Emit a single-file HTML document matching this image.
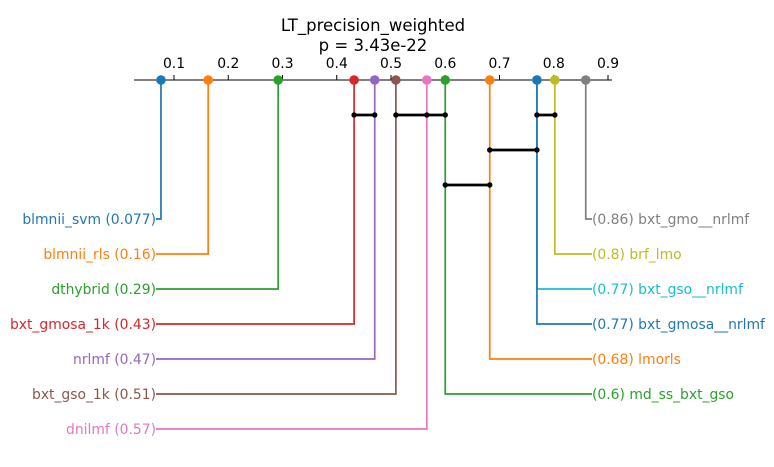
<!DOCTYPE html>
<html><head><meta charset="utf-8"><style>
html,body{margin:0;padding:0;background:#fff;}
svg text{font-family:"DejaVu Sans","Liberation Sans",sans-serif;}
</style></head><body>
<svg id="chart" width="774" height="462" xmlns="http://www.w3.org/2000/svg">
<text x="373" y="31" font-size="16.5" text-anchor="middle">LT_precision_weighted</text>
<text x="373" y="51" font-size="16.5" text-anchor="middle">p = 3.43e-22</text>
<g id="axis"></g>
<g id="marks"></g>
</svg>
<script>
const ticks = [0.1,0.2,0.3,0.4,0.5,0.6,0.7,0.8,0.9];
const leftNames = ["blmnii_svm","blmnii_rls","dthybrid","bxt_gmosa_1k","nrlmf","bxt_gso_1k","dnilmf"];
const leftValues = [0.076,0.163,0.292,0.432,0.470,0.509,0.566];
const leftLabels = ["0.077","0.16","0.29","0.43","0.47","0.51","0.57"];
const leftColors = ["#1f77b4","#ff7f0e","#2ca02c","#d62728","#9467bd","#8c564b","#e377c2"];
const rightNames = ["bxt_gmo__nrlmf","brf_lmo","bxt_gso__nrlmf","bxt_gmosa__nrlmf","lmorls","md_ss_bxt_gso"];
const rightValues = [0.859,0.802,0.769,0.769,0.682,0.600];
const rightLabels = ["0.86","0.8","0.77","0.77","0.68","0.6"];
const rightColors = ["#7f7f7f","#bcbd22","#17becf","#1f77b4","#ff7f0e","#2ca02c"];
const cliqueStart = [0.432,0.509,0.769,0.682,0.600];
const cliqueEnd = [0.470,0.600,0.802,0.769,0.682];
const cliqueLevel = [0,0,0,1,2];

const NS="http://www.w3.org/2000/svg";
const X = v => 174 + (v-0.1)*542.5;
const AXY=80, ROW0=219, ROWH=35, LX=156, RX=592, CLQ0=115, CLQH=35, FS=13.9;
const axis=document.getElementById('axis'), marks=document.getElementById('marks');
function mk(tag,parent,attrs){const e=document.createElementNS(NS,tag);for(const k in attrs)e.setAttribute(k,attrs[k]);parent.appendChild(e);return e;}

let ax=mk('line',axis,{x1:134,x2:612,y1:AXY,y2:AXY,stroke:'#000','stroke-width':1});


ticks.forEach(t=>{
  let l=mk('line',axis,{x1:X(t),x2:X(t),y1:AXY,y2:AXY-5,stroke:'#000','stroke-width':1});
  
  
  let tx=mk('text',axis,{x:X(t),y:AXY-12,'font-size':FS,'text-anchor':'middle'});
  tx.textContent=t.toFixed(1);
  
  
});

function side(names,vals,labs,cols,isLeft){
  names.forEach((n,i)=>{
    const x=X(vals[i]), y=ROW0+i*ROWH, ex=isLeft?LX:RX;
    let p=mk('polyline',marks,{points:`${x},${AXY} ${x},${y} ${ex},${y}`,fill:'none',stroke:cols[i],'stroke-width':1.7});
    
    
    let t=mk('text',marks,{x:ex,y:y+5,'font-size':FS,fill:cols[i],'text-anchor':isLeft?'end':'start'});
    t.textContent=isLeft?`${n} (${labs[i]})`:`(${labs[i]}) ${n}`;
    
    
  });
}
side(leftNames,leftValues,leftLabels,leftColors,true);
side(rightNames,rightValues,rightLabels,rightColors,false);
[...leftValues.map((v,i)=>[v,leftColors[i]]),...rightValues.map((v,i)=>[v,rightColors[i]])].forEach(([v,c])=>{
  let d=mk('circle',marks,{cx:X(v),cy:AXY,r:4.8,fill:c});
  
  
});
cliqueStart.forEach((s,i)=>{
  const y=CLQ0+cliqueLevel[i]*CLQH;
  let l=mk('line',marks,{x1:X(s),x2:X(cliqueEnd[i]),y1:y,y2:y,stroke:'#000','stroke-width':2.8});
  
  
  const pts=[s,cliqueEnd[i]];
  leftValues.concat(rightValues).forEach(v=>{ if(v>s&&v<cliqueEnd[i]&&!pts.includes(v)) pts.push(v); });
  pts.forEach(v=>{
    let c=mk('circle',marks,{cx:X(v),cy:y,r:2.7,fill:'#000'});
    
    
  });
});
</script>
</body></html>
